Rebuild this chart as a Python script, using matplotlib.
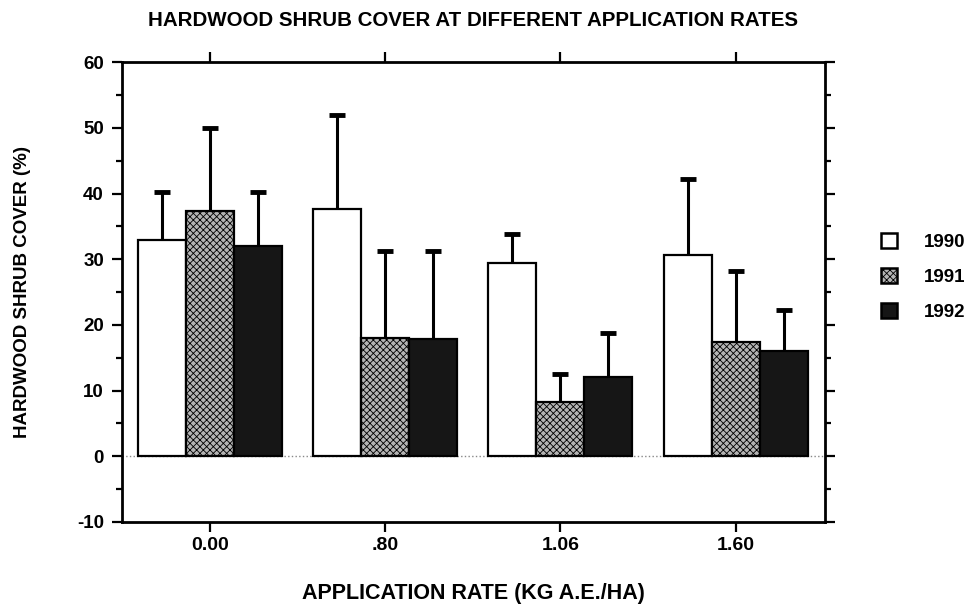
import numpy as np
import matplotlib
matplotlib.use('Agg')
import matplotlib.pyplot as plt
from matplotlib.patches import Patch
from matplotlib.ticker import MultipleLocator

plt.rcParams['font.family'] = ['Liberation Sans', 'DejaVu Sans']
plt.rcParams['font.weight'] = 'bold'
plt.rcParams['axes.titleweight'] = 'bold'
plt.rcParams['axes.labelweight'] = 'bold'
plt.rcParams['axes.unicode_minus'] = False
plt.rcParams['hatch.linewidth'] = 0.6

rates = ['0.00', '.80', '1.06', '1.60']
years = ['1990', '1991', '1992']
cover_1990 = [32.9, 37.7, 29.4, 30.7]
cover_1991 = [37.4, 18.0, 8.2, 17.4]
cover_1992 = [32.0, 17.8, 12.0, 16.1]
err_1990 = [7.3, 14.3, 4.4, 11.5]
err_1991 = [12.5, 13.2, 4.3, 10.8]
err_1992 = [8.2, 13.4, 6.7, 6.1]

values = [cover_1990, cover_1991, cover_1992]
errors = [err_1990, err_1991, err_1992]
faces = ['white', '#b4b4b4', '#161616']
hatches = [None, 'xxxxx', None]

fig = plt.figure(figsize=(9.8, 6.09), dpi=100)
ax = fig.add_axes([0.1245, 0.1429, 0.7173, 0.7551])

x = np.arange(len(rates))
w = 0.274
for i in range(3):
    ax.bar(x + (i - 1) * w, values[i], w, color=faces[i], edgecolor='black',
           linewidth=1.6, hatch=hatches[i], zorder=2)
    eb = ax.errorbar(x + (i - 1) * w, values[i], yerr=[np.zeros(4), errors[i]],
                     fmt='none', ecolor='black', elinewidth=2.2, capsize=6,
                     capthick=3.5, zorder=3)
    # only the upper cap is drawn in the original
    eb[1][0].remove()

ax.axhline(0, color='#888888', linewidth=1, linestyle=':', zorder=1)

ax.set_xlim(-0.503, 3.51)
ax.set_ylim(-10, 60)
ax.set_xticks(x)
ax.set_xticklabels(rates)
ax.yaxis.set_major_locator(MultipleLocator(10))
ax.yaxis.set_minor_locator(MultipleLocator(5))
ax.tick_params(axis='both', which='major', direction='out', length=7,
               width=1.6, labelsize=13.5, top=True, right=True, pad=6)
ax.tick_params(axis='y', which='minor', direction='out', length=4,
               width=1.6, right=True)
ax.tick_params(axis='x', pad=4, labelsize=14)
for s in ax.spines.values():
    s.set_linewidth(2)

ax.set_title('HARDWOOD SHRUB COVER AT DIFFERENT APPLICATION RATES',
             fontsize=14.8, pad=26)
ax.set_xlabel('APPLICATION RATE (KG A.E./HA)', fontsize=15.5, labelpad=21)
ax.set_ylabel('HARDWOOD SHRUB COVER (%)', fontsize=13.5, labelpad=33)

handles = [Patch(facecolor=faces[i], edgecolor='black', linewidth=1.8,
                 hatch=hatches[i]) for i in range(3)]
fig.legend(handles, years, loc='center left', bbox_to_anchor=(0.882, 0.545),
           frameon=False, fontsize=13.5, handlelength=0.85, handleheight=0.85,
           handletextpad=1.45, labelspacing=0.92)

fig.savefig('out.png', dpi=100)
